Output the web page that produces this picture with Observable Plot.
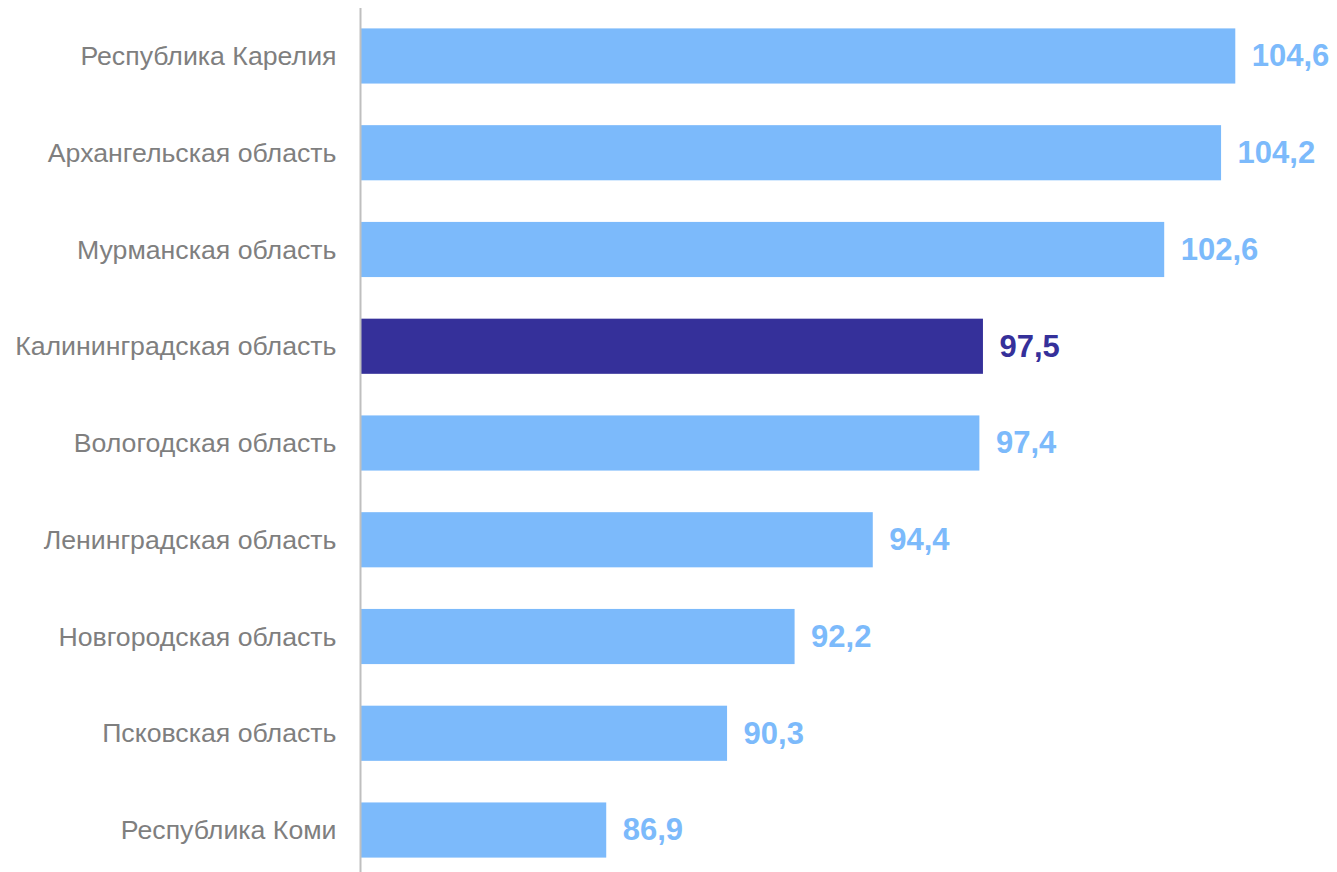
<!DOCTYPE html>
<html>
<head>
<meta charset="utf-8">
<script src="https://cdn.jsdelivr.net/npm/d3@7"></script>
<script src="https://cdn.jsdelivr.net/npm/@observablehq/plot@0.6"></script>
<style>
  html, body { margin: 0; padding: 0; background: #ffffff; overflow: hidden; }
</style>
</head>
<body>
<div id="chart"></div>
<script>
const regions = [
  "Республика Карелия",
  "Архангельская область",
  "Мурманская область",
  "Калининградская область",
  "Вологодская область",
  "Ленинградская область",
  "Новгородская область",
  "Псковская область",
  "Республика Коми"
];
const values = [104.6, 104.2, 102.6, 97.5, 97.4, 94.4, 92.2, 90.3, 86.9];
const highlighted = "Калининградская область";

const data = regions.map((r, i) => ({region: r, value: values[i], hi: r === highlighted}));
const fmt = v => v.toFixed(1).replace(".", ",");

const chart = Plot.plot({
  width: 1337,
  height: 872,
  marginTop: 8,
  marginBottom: 0,
  marginLeft: 361,
  marginRight: 88,
  style: {fontFamily: "'Liberation Sans', Arial, sans-serif", background: "#ffffff"},
  x: {domain: [80, 105], range: [361, 1249.5], axis: null},
  y: {type: "band", domain: regions, range: [7.6, 878.4], paddingInner: 0.43, paddingOuter: 0.215, round: false, label: null},
  marks: [
    Plot.barX(data, {
      y: "region", x1: 80, x2: "value",
      fill: d => d.hi ? "#35309a" : "#7cbafb"
    }),
    Plot.ruleX([80], {stroke: "#bfbfbf", strokeWidth: 2, dx: -1}),
    Plot.axisY({tickSize: 0, tickPadding: 25, fontSize: 26.7, fill: "#7f7f7f", label: null}),
    Plot.text(data, {
      y: "region", x: "value",
      text: d => fmt(d.value),
      dx: 16, textAnchor: "start",
      fontSize: 31, fontWeight: "bold",
      fill: d => d.hi ? "#35309a" : "#7cbafb"
    })
  ]
});
document.getElementById("chart").appendChild(chart);
</script>
</body>
</html>
